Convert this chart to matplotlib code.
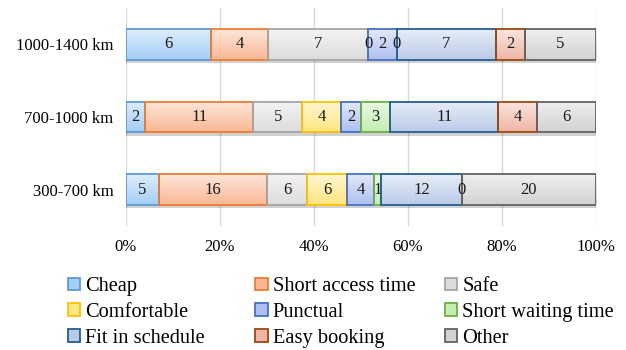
import numpy as np
import matplotlib
matplotlib.use("Agg")
import matplotlib.pyplot as plt
import matplotlib.colors as mcolors
import matplotlib.patheffects as pe
from matplotlib.patches import Patch

plt.rcParams['font.family'] = ['Liberation Serif', 'DejaVu Serif']

# distance bands, bottom to top
distances = ["300-700 km", "700-1000 km", "1000-1400 km"]

# number of answers per reason, one list per band (same order as distances)
reasons = ["Cheap", "Short access time", "Safe", "Comfortable", "Punctual",
           "Short waiting time", "Fit in schedule", "Easy booking", "Other"]
cheap = [5, 2, 6]
short_access_time = [16, 11, 4]
safe = [6, 5, 7]
comfortable = [6, 4, 0]
punctual = [4, 2, 2]
short_waiting_time = [1, 3, 0]
fit_in_schedule = [12, 11, 7]
easy_booking = [0, 4, 2]
other = [20, 6, 5]

x_ticks = [0, 20, 40, 60, 80, 100]
x_tick_labels = ["0%", "20%", "40%", "60%", "80%", "100%"]

series = [cheap, short_access_time, safe, comfortable, punctual,
          short_waiting_time, fit_in_schedule, easy_booking, other]

# fill (base) and outline colours for each reason
fills = ["#a3cdf5", "#f9b795", "#dcdcdc", "#ffe680", "#aebff0",
         "#c2eeb0", "#b9cbe8", "#efb6a6", "#d2d2d2"]
edges = ["#5b9bd5", "#ed7d31", "#a5a5a5", "#ffc000", "#4472c4",
         "#70ad47", "#255e91", "#9e480e", "#636363"]

counts = np.array(series, dtype=float)
shares = counts / counts.sum(axis=0) * 100

fig = plt.figure(figsize=(6.26, 3.5), dpi=100)
ax = fig.add_axes([0.201, 0.354, 0.751, 0.623])

y = np.arange(len(distances))
bar_h = 0.42
left = np.zeros(len(distances))


def gradient_image(base):
    top = np.array(mcolors.to_rgb(base)) * 0.35 + 0.65
    bot = np.array(mcolors.to_rgb(base))
    t = np.linspace(0, 1, 64)[:, None]
    col = top[None, :] * (1 - t) + bot[None, :] * t
    return col[:, None, :]


for i, name in enumerate(reasons):
    w = shares[i]
    fill_bars = ax.barh(y, w, left=left, height=bar_h, color=fills[i],
                        edgecolor="none", zorder=2)
    for rect in fill_bars:
        rect.set_path_effects([pe.SimplePatchShadow(offset=(0, -2.5),
                                                    shadow_rgbFace="#000000",
                                                    alpha=0.18),
                               pe.Normal()])
        if rect.get_width() > 0:
            x0, y0 = rect.get_x(), rect.get_y()
            im = ax.imshow(gradient_image(fills[i]), aspect="auto",
                           extent=[x0, x0 + rect.get_width(), y0, y0 + rect.get_height()],
                           origin="upper", zorder=2.2, interpolation="bilinear")
            im.set_clip_path(rect)
    outline = ax.barh(y, w, left=left, height=bar_h, color="none",
                      edgecolor=edges[i], linewidth=1.3, zorder=3)
    ax.bar_label(outline, labels=[str(v) for v in series[i]],
                 label_type="center", fontsize=12, color="#1a1a1a", zorder=5)
    left = left + w

ax.set_xlim(0, 100)
ax.set_ylim(-0.5, len(distances) - 0.5)
ax.set_yticks(y)
ax.set_yticklabels(distances, fontsize=12)
ax.set_xticks(x_ticks)
ax.set_xticklabels(x_tick_labels, fontsize=12)
ax.tick_params(axis="both", length=0, pad=9)
ax.tick_params(axis="x", pad=9)
ax.grid(axis="x", color="#d9d9d9", linewidth=1.0, zorder=0)
ax.set_axisbelow(True)
for s in ax.spines.values():
    s.set_visible(False)

# legend: three equal-width columns, filled row by row
handles = [Patch(facecolor=fills[i], edgecolor=edges[i], linewidth=1.3, label=reasons[i])
           for i in range(len(reasons))]
col_x = [0.108, 0.408, 0.711]
for c in range(3):
    idx = [c, c + 3, c + 6]
    leg = fig.legend([handles[k] for k in idx], [reasons[k] for k in idx],
                     loc="upper left", bbox_to_anchor=(col_x[c], 0.208),
                     frameon=False, fontsize=14.7, handlelength=0.6,
                     handleheight=0.6, handletextpad=0.25, labelspacing=0.34,
                     borderpad=0.0, borderaxespad=0.0)

fig.savefig("out.png", dpi=100)
